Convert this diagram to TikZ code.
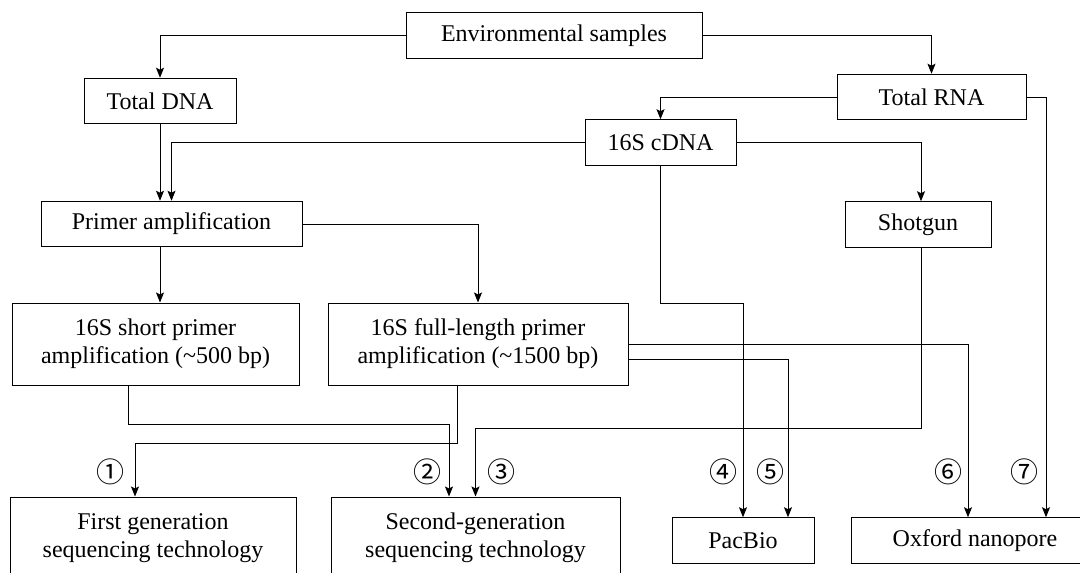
\documentclass[tikz,border=0pt]{standalone}
\usepackage{fontspec}
\setmainfont{Liberation Serif}
\newfontfamily\circfont{Noto Sans CJK SC}
\usetikzlibrary{arrows.meta}
\begin{document}
\begin{tikzpicture}[x=1pt,y=-1pt,
  box/.style={draw,line width=1pt,inner sep=0pt,align=center,
    font=\fontsize{24}{28}\selectfont,minimum height=45.5pt},
  tallbox/.style={box,minimum height=82pt},
  link/.style={line width=1pt,-{Stealth[length=10pt,width=8pt,inset=2pt]}},
  routenum/.style={inner sep=0pt,font=\circfont\fontsize{28}{28}\selectfont}]
 \useasboundingbox (0,0) rectangle (1080,573);
 % boxes
 \node[box,minimum width=296pt] (env) at (554,35.5) {Environmental samples};
 \node[box,minimum width=152pt] (dna) at (160,101) {Total DNA};
 \node[box,minimum width=189pt] (rna) at (931.5,97) {Total RNA};
 \node[box,minimum width=151pt] (cdna) at (660.5,142.5) {16S cDNA};
 \node[box,minimum width=261pt] (primer) at (171.5,224) {Primer amplification};
 \node[box,minimum width=146pt] (shotgun) at (918,224.5) {Shotgun};
 \node[tallbox,minimum width=287pt] (short) at (155.5,344)
   {16S short primer\\amplification (\textasciitilde500 bp)};
 \node[tallbox,minimum width=300pt] (full) at (478,344)
   {16S full-length primer\\amplification (\textasciitilde1500 bp)};
 \node[tallbox,minimum width=286pt] (first) at (153,538)
   {First generation\\sequencing technology};
 \node[tallbox,minimum width=289pt] (second) at (475.5,538)
   {Second-generation\\sequencing technology};
 \node[box,minimum width=142pt] (pacbio) at (743,540.5) {PacBio};
 \node[box,minimum width=248pt] (oxford) at (975,540.5) {Oxford nanopore};
 % connectors
 \draw[link] (env.west) -| (dna.north);
 \draw[link] (env.east) -| (rna.north);
 \draw[link] (rna.west) -| (cdna.north);
 \draw[link] (dna.south) -- (primer.north -| dna.south);
 \draw[link] (cdna.west) -| (primer.north);
 \draw[link] (cdna.east) -| ([xshift=3pt]shotgun.north);
 \draw[link] (primer.east) -| (full.north);
 \draw[link] (primer.south -| dna.south) -- (short.north -| dna.south);
 \draw[link] ([xshift=-27.5pt]short.south) -- ++(0,39)
   -| ([xshift=-26.5pt]second.north);
 \draw[link] ([xshift=-21pt]full.south) -- ++(0,58)
   -| ([xshift=-18pt]first.north);
 \draw[link] ([xshift=3pt]shotgun.south) -- ++(0,181) -| (second.north);
 \draw[link] (cdna.south) -- ++(0,138) -| (pacbio.north);
 \draw[link] (full.east) -| ([xshift=-7pt]oxford.north);
 \draw[link] ([yshift=-15pt]full.east) -| ([xshift=45pt]pacbio.north);
 \draw[link] (rna.east) -| ([xshift=71pt]oxford.north);
 % route numbers
 \foreach \num/\xp [count=\i] in {①/110,②/427,③/501,④/723,⑤/770,⑥/948,⑦/1024}
   \node[routenum] (num\i) at (\xp,472) {\num};
\end{tikzpicture}
\end{document}
